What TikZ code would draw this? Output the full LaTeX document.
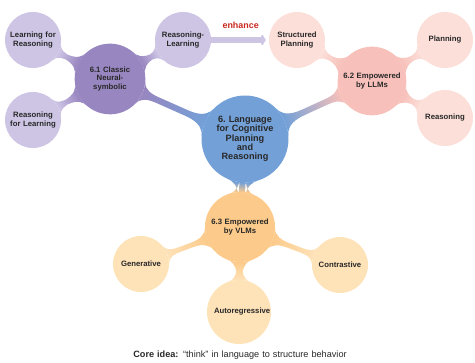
\documentclass[tikz,border=0pt]{standalone}
\usepackage{fontspec}
\setmainfont{Liberation Sans}
\usetikzlibrary{mindmap, arrows.meta}
\definecolor{hubblue}{RGB}{115,160,215}
\definecolor{nspurple}{RGB}{152,134,192}
\definecolor{nsleaf}{RGB}{206,197,229}
\definecolor{llmpink}{RGB}{247,192,186}
\definecolor{llmleaf}{RGB}{252,223,217}
\definecolor{vlmorange}{RGB}{252,202,138}
\definecolor{vlmleaf}{RGB}{254,226,184}
\definecolor{enhred}{RGB}{200,40,30}
\definecolor{txtdark}{RGB}{40,40,40}

\begin{document}
\begin{tikzpicture}[mindmap,
  hub/.style={concept, concept color=hubblue, draw=none, minimum size=2.4cm,
              text width=2.1cm, align=center, text=txtdark,
              font=\fontsize{7.8}{8}\selectfont\bfseries},
  topic/.style={concept, draw=none, minimum size=2.12cm, text width=1.8cm,
                align=center, text=txtdark,
                font=\fontsize{6.6}{7.4}\selectfont\bfseries},
  leaf/.style={concept, draw=none, minimum size=1.68cm, text width=1.5cm,
               align=center, text=txtdark,
               font=\fontsize{6.6}{7.4}\selectfont\bfseries},
  link/.style 2 args={circle connection bar switch color=from (#1) to (#2),
                      line width=3.8pt},
  enharr/.style={draw=nsleaf, line width=5pt, shorten >=1.5pt,
                 -{Triangle Cap[length=2.5pt] Straight Barb[length=2.5pt, width=8pt, line width=1.6pt, sep=1.2pt]}},
]
\useasboundingbox (0,0) rectangle (14.25,10.89);

% hub
\node[hub] (hub) at (7.35,6.72) {6.\ Language\\for Cognitive\\Planning\\and\\Reasoning};

% 6.1 classic neural-symbolic
\node[topic, concept color=nspurple] (ns) at (3.30,8.52) {6.1 Classic\\Neural-\\symbolic};
\node[leaf, concept color=nsleaf] (l4r) at (0.99,9.69) {Learning for\\Reasoning};
\node[leaf, concept color=nsleaf] (r4l) at (0.99,7.29) {Reasoning\\for Learning};
\node[leaf, concept color=nsleaf] (rl)  at (5.49,9.69) {Reasoning-\\Learning};

% 6.2 empowered by LLMs
\node[topic, concept color=llmpink, minimum size=2.06cm] (llm) at (11.16,8.46) {6.2 Empowered\\by LLMs};
\node[leaf, concept color=llmleaf] (sp)   at (8.91,9.69) {Structured\\Planning};
\node[leaf, concept color=llmleaf] (plan) at (13.35,9.69) {Planning};
\node[leaf, concept color=llmleaf] (reas) at (13.35,7.35) {Reasoning};

% 6.3 empowered by VLMs
\node[topic, concept color=vlmorange, minimum size=2.1cm] (vlm) at (7.20,4.08) {6.3 Empowered\\by VLMs};
\node[leaf, concept color=vlmleaf] (gen)  at (4.23,2.97) {Generative};
\node[leaf, concept color=vlmleaf] (con)  at (10.20,2.94) {Contrastive};
\node[leaf, concept color=vlmleaf, minimum size=1.92cm] (auto) at (7.17,1.53) {Autoregressive};

% connections
\path (hub) to[link={hubblue}{nspurple}] (ns);
\path (hub) to[link={hubblue}{llmpink}] (llm);
\path (hub) to[link={hubblue}{vlmorange}] (vlm);
\path (ns) to[link={nspurple}{nsleaf}] (l4r);
\path (ns) to[link={nspurple}{nsleaf}] (r4l);
\path (ns) to[link={nspurple}{nsleaf}] (rl);
\path (llm) to[link={llmpink}{llmleaf}] (sp);
\path (llm) to[link={llmpink}{llmleaf}] (plan);
\path (llm) to[link={llmpink}{llmleaf}] (reas);
\path (vlm) to[link={vlmorange}{vlmleaf}] (gen);
\path (vlm) to[link={vlmorange}{vlmleaf}] (con);
\path (vlm) to[link={vlmorange}{vlmleaf}] (auto);

% enhance relation
\draw[enharr] (rl) -- (sp);
\node[text width=2cm, align=center, text=enhred, font=\fontsize{7.6}{8}\selectfont\bfseries]
  (enh) at (7.22,10.13) {enhance};

\node[text width=10cm, align=center, font=\fontsize{7.8}{9}\selectfont, text=txtdark]
  (core) at (7.20,0.25) {\textbf{Core idea:} “think” in language to structure behavior};
\end{tikzpicture}
\end{document}
